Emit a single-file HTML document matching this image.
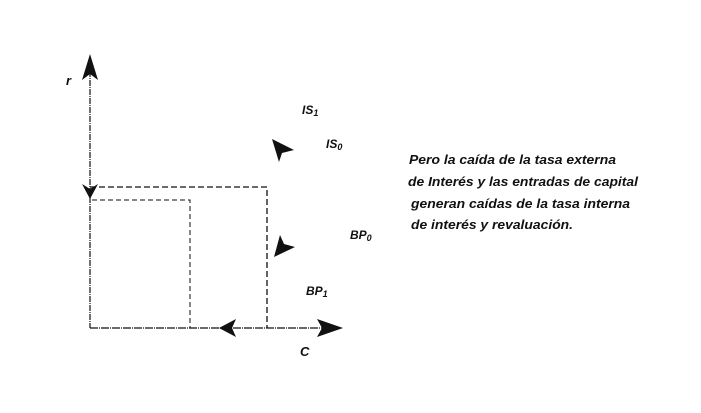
<!DOCTYPE html>
<html><head><style>
body{margin:0;background:#fff;width:701px;height:413px;overflow:hidden}
svg{display:block}
text{font-family:"Liberation Sans",sans-serif;font-weight:bold;font-style:italic;fill:#111}
</style></head><body>
<svg width="701" height="413" viewBox="0 0 701 413">
<g stroke="#111" fill="none">
<line x1="90" y1="62" x2="90" y2="328" stroke-width="1.2" stroke-dasharray="6,1,1,1"/>
<line x1="90" y1="328" x2="330" y2="328" stroke-width="1.2" stroke-dasharray="8,1,1,1"/>
<path d="M90 187 H267 V328" stroke-width="1.3" stroke-dasharray="6,3"/>
<path d="M92 200 H190 V328" stroke-width="1" stroke-dasharray="5,3"/>
</g>
<g fill="#111">
<path d="M90 54 L98 80 L90 74 L82 80 Z"/>
<path d="M90 199 L82 184 L90 189 L98 184 Z"/>
<path d="M343 328 L317 319 L322 328 L317 337 Z"/>
<path d="M219 328 L236 319 L232 328 L236 337 Z"/>
<path d="M272 139 L294 150 L282 153 L279 162 Z"/>
<path d="M274 257 L280 235 L284 244 L295 247 Z"/>
</g>
<text x="66" y="85" font-size="13">r</text>
<text x="300" y="356" font-size="13">C</text>
<text x="302" y="114" font-size="12">IS<tspan font-size="9" dy="2">1</tspan></text>
<text x="326" y="148" font-size="12">IS<tspan font-size="9" dy="2">0</tspan></text>
<text x="350" y="239" font-size="12">BP<tspan font-size="9" dy="2">0</tspan></text>
<text x="306" y="295" font-size="12">BP<tspan font-size="9" dy="2">1</tspan></text>
<g font-size="13">
<text x="409" y="164" textLength="207" lengthAdjust="spacingAndGlyphs">Pero la caída de la tasa externa</text>
<text x="408" y="186" textLength="230" lengthAdjust="spacingAndGlyphs">de Interés y las entradas de capital</text>
<text x="411" y="208" textLength="219" lengthAdjust="spacingAndGlyphs">generan caídas de la tasa interna</text>
<text x="411" y="229" textLength="162" lengthAdjust="spacingAndGlyphs">de interés y revaluación.</text>
</g>
</svg>
</body></html>
